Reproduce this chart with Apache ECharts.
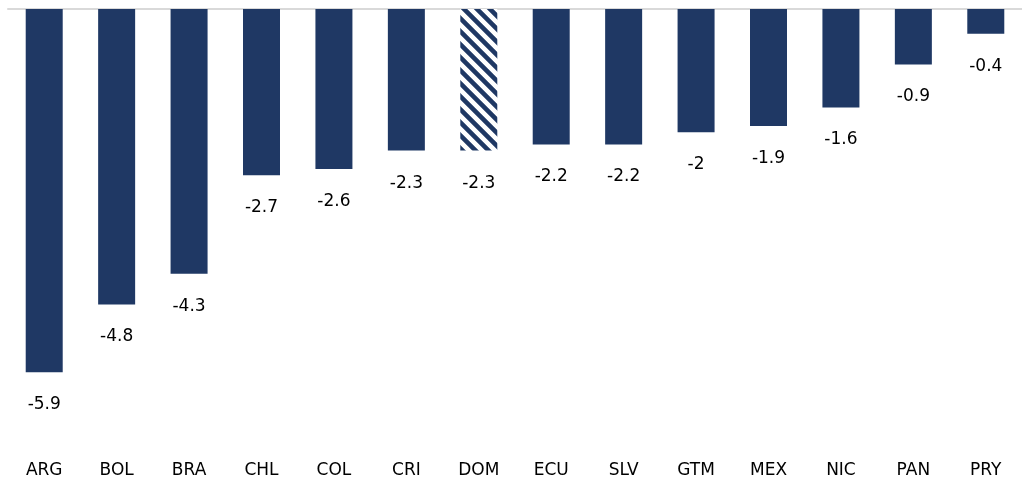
<!DOCTYPE html>
<html>
<head>
<meta charset="utf-8">
<script src="https://cdn.jsdelivr.net/npm/echarts@6/dist/echarts.min.js"></script>
<style>
  html, body { margin: 0; padding: 0; background: #fff; }
  #chart { width: 1022px; height: 483px; }
</style>
</head>
<body>
<div id="chart"></div>
<script>
var categories = ['ARG', 'BOL', 'BRA', 'CHL', 'COL', 'CRI', 'DOM', 'ECU', 'SLV', 'GTM', 'MEX', 'NIC', 'PAN', 'PRY'];
var values = [-5.9, -4.8, -4.3, -2.7, -2.6, -2.3, -2.3, -2.2, -2.2, -2, -1.9, -1.6, -0.9, -0.4];
var hatched = ['DOM'];

var navy = '#1f3864';

// diagonal stripe tile for the hatched bar
function stripes(){
    var s = 13, c = document.createElement('canvas');
    c.width = s; c.height = s;
    var ctx = c.getContext('2d');
    ctx.fillStyle = '#fff';
    ctx.fillRect(0, 0, s, s);
    ctx.strokeStyle = navy;
    ctx.lineWidth = 4.6;
    ctx.beginPath();
    ctx.moveTo(-s, 0); ctx.lineTo(s, 2 * s);
    ctx.moveTo(0, 0); ctx.lineTo(s, s);
    ctx.moveTo(0, -s); ctx.lineTo(2 * s, s);
    ctx.stroke();
    return c;
}
var tile = stripes();

var chart = echarts.init(document.getElementById('chart'));
var data = values.map(function(v, i){
    if(hatched.indexOf(categories[i]) >= 0){
        return {value: v, itemStyle: {color: {image: tile, repeat: 'repeat'}}};
    }
    return v;
});

var option = {
    animation: false,
    grid: {left: 8, top: 9, width: 1026, bottom: 43},
    xAxis: [
        {
            type: 'category',
            position: 'top',
            data: categories,
            axisLine: {lineStyle: {color: '#d9d9d9', width: 2}},
            axisTick: {show: false},
            axisLabel: {show: false}
        },
        {
            type: 'category',
            position: 'bottom',
            data: categories,
            axisLine: {show: false},
            axisTick: {show: false},
            axisLabel: {
                color: '#000',
                fontFamily: 'DejaVu Sans',
                fontSize: 17,
                margin: 22
            }
        }
    ],
    yAxis: {
        type: 'value',
        min: -7,
        max: 0,
        show: false,
        splitLine: {show: false}
    },
    series: [
        {
            type: 'bar',
            xAxisIndex: 0,
            data: data,
            barWidth: 37,
            itemStyle: {color: navy},
            label: {
                show: true,
                position: 'bottom',
                distance: 24,
                color: '#000',
                fontFamily: 'DejaVu Sans',
                fontSize: 17
            }
        }
    ]
};
chart.setOption(option);
</script>
</body>
</html>
